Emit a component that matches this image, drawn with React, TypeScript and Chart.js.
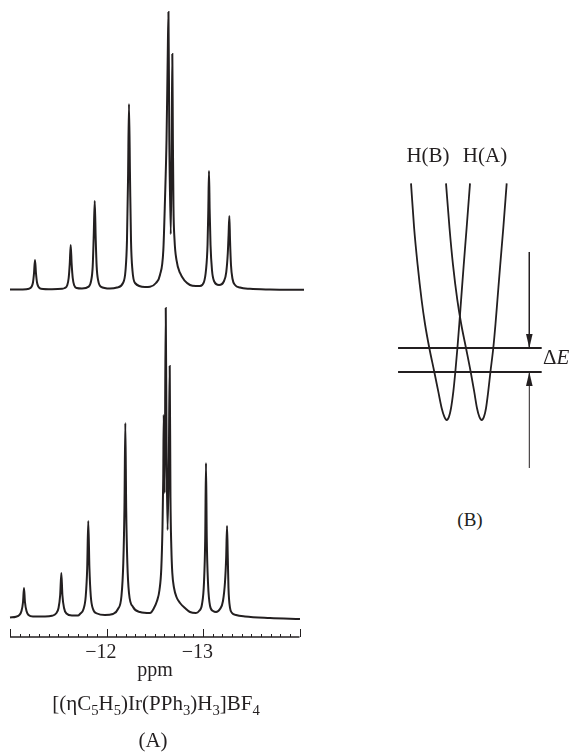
import React, { useEffect, useRef } from "react";
import { Chart, registerables } from "chart.js";

Chart.register(...registerables);

const INK = "#231f20";
const FONT = '"Liberation Serif", "Times New Roman", serif';

// ---------- Panel A : ppm axis ----------
const PPM_AXIS = [-11, -14];
const PPM_MAJOR = [-12, -13];
const PPM_LABELS = ["\u221212", "\u221213"];
const PPM_MINOR_STEP = 0.1;

// upper spectrum (ppm, relative intensity)
const UPPER_PPM = [
  -11.0, -11.124, -11.197, -11.223, -11.238, -11.249, -11.259, -11.269, -11.28, -11.295, -11.321, -11.435,
  -11.539, -11.567, -11.593, -11.608, -11.619, -11.629, -11.639, -11.65, -11.665, -11.691, -11.746,
  -11.816, -11.841, -11.857, -11.867, -11.878, -11.888, -11.898, -11.914, -11.94, -12.036,
  -12.109, -12.171, -12.197, -12.212, -12.223, -12.233, -12.244, -12.254, -12.269, -12.295, -12.399,
  -12.451, -12.513, -12.554, -12.589, -12.606, -12.622, -12.634, -12.642, -12.651, -12.666, -12.676, -12.682,
  -12.688, -12.694, -12.705, -12.725, -12.762, -12.865, -12.927,
  -12.969, -13.01, -13.031, -13.047, -13.055, -13.062, -13.069, -13.078, -13.093, -13.114, -13.166,
  -13.218, -13.241, -13.257, -13.265, -13.273, -13.28, -13.29, -13.306, -13.332, -13.383, -13.487, -13.694, -14.047,
];
const UPPER_INT = [
  0.18, 0.22, 0.47, 1.15, 2.7, 6.12, 10.8, 6.12, 2.7, 1.15, 0.47, 0.29,
  0.43, 0.72, 1.69, 4.32, 9.35, 16.2, 9.35, 4.32, 1.69, 0.72, 0.54,
  1.22, 3.35, 8.49, 18.7, 32.0, 18.7, 8.49, 3.35, 1.22, 0.54,
  0.9, 2.52, 7.01, 17.6, 39.6, 66.9, 39.6, 17.6, 7.01, 2.52, 1.08,
  1.19, 2.52, 5.4, 14.4, 32.4, 54.0, 82.7, 100, 54.0, 20.1, 54.0, 84.9,
  54.0, 29.9, 18.0, 10.8, 6.12, 1.8, 1.44,
  1.44, 2.88, 7.19, 16.2, 28.8, 42.8, 28.8, 16.2, 7.19, 3.24, 1.8,
  3.24, 6.47, 13.3, 19.8, 26.6, 18.0, 8.99, 3.96, 1.8, 0.9, 0.43, 0.18, 0.07,
];

// lower spectrum (ppm, relative intensity)
const LOWER_PPM = [
  -11.0, -11.062, -11.098, -11.119, -11.135, -11.145, -11.155, -11.171, -11.192, -11.238, -11.363,
  -11.435, -11.477, -11.503, -11.52, -11.532, -11.543, -11.56, -11.585, -11.642, -11.705,
  -11.725, -11.762, -11.785, -11.8, -11.811, -11.823, -11.837, -11.86, -11.902, -11.984,
  -12.067, -12.119, -12.155, -12.174, -12.186, -12.195, -12.204, -12.216, -12.233, -12.275, -12.347, -12.451,
  -12.492, -12.523, -12.549, -12.568, -12.58, -12.588, -12.593, -12.602, -12.614, -12.623, -12.633,
  -12.646, -12.655, -12.663, -12.672, -12.682, -12.7, -12.725, -12.762, -12.813, -12.865, -12.927,
  -12.959, -12.99, -13.01, -13.023, -13.031, -13.039, -13.052, -13.073, -13.104, -13.135,
  -13.176, -13.207, -13.228, -13.24, -13.249, -13.257, -13.264, -13.28, -13.301, -13.342, -13.435, -13.694, -14.005,
];
const LOWER_INT = [
  0.16, 0.39, 0.97, 2.26, 5.16, 9.68, 5.16, 2.26, 0.97, 0.48, 0.48,
  0.71, 1.45, 3.23, 7.42, 14.5, 7.42, 3.23, 1.45, 0.81, 0.81,
  1.29, 2.9, 7.1, 16.1, 31.3, 16.1, 7.1, 2.9, 1.45, 0.97,
  1.29, 2.9, 7.1, 17.7, 35.5, 62.9, 35.5, 17.7, 8.06, 3.55, 1.94, 1.61,
  3.23, 5.48, 9.03, 16.1, 29.0, 45.2, 65.5, 40.3, 100, 51.6, 28.4,
  51.6, 81.3, 38.7, 22.6, 14.5, 9.68, 6.77, 4.84, 3.23, 1.94, 1.61,
  2.26, 4.52, 11.3, 25.8, 50.0, 25.8, 11.3, 3.87, 2.26, 1.94,
  2.9, 5.48, 11.6, 19.4, 29.7, 19.4, 9.68, 3.23, 1.61, 0.97, 0.48, 0, -0.32,
];

// ---------- Panel B : potential wells (coordinate q, energy E) ----------
const WELL_E = [9.86, 8, 6.46, 5, 4, 3, 2, 1.18, 0.49, 0.14, 0, 0.14, 0.49, 1.18, 2, 3, 4, 5, 6.46, 8, 9.86];
const HB_Q = [
  -1.02, -0.931, -0.831, -0.717, -0.62, -0.497, -0.354, -0.24, -0.143, -0.069, 0,
  0.066, 0.123, 0.189, 0.246, 0.306, 0.36, 0.411, 0.486, 0.569, 0.666,
];
const HA_Q = [
  -0.02, 0.08, 0.18, 0.303, 0.414, 0.551, 0.686, 0.786, 0.866, 0.931, 1.0,
  1.066, 1.123, 1.186, 1.249, 1.331, 1.394, 1.449, 1.529, 1.617, 1.714,
];
const LEVELS_E = [3, 2];
const LEVEL_Q = [-1.39, 2.714];
const ARROW_Q = 2.36;
const ARROW_DOWN_E = [7, 3];
const ARROW_UP_E = [-2, 2];

const zip = (xs: number[], ys: number[]) => xs.map((x, i) => ({ x, y: ys[i] }));

const ppmAxisPlugin = {
  id: "ppmAxis",
  afterDraw(chart: any) {
    const { ctx, chartArea, scales } = chart;
    const x = scales.x;
    const y0 = chartArea.bottom;
    ctx.save();
    ctx.strokeStyle = INK;
    ctx.lineWidth = 1.3;
    const xa = x.getPixelForValue(PPM_AXIS[0]);
    const xb = x.getPixelForValue(PPM_AXIS[1]);
    ctx.beginPath();
    ctx.moveTo(xa, y0);
    ctx.lineTo(xb, y0);
    ctx.stroke();
    ctx.lineWidth = 1;
    const n = Math.round(Math.abs(PPM_AXIS[1] - PPM_AXIS[0]) / PPM_MINOR_STEP);
    for (let i = 0; i <= n; i++) {
      const v = PPM_AXIS[0] - i * PPM_MINOR_STEP;
      const major = i % 10 === 0;
      const px = Math.round(x.getPixelForValue(v)) + 0.5;
      ctx.beginPath();
      ctx.moveTo(px, y0);
      ctx.lineTo(px, y0 - (major ? 8 : 3));
      ctx.stroke();
    }
    ctx.fillStyle = INK;
    ctx.font = `20px ${FONT}`;
    ctx.textBaseline = "alphabetic";
    ctx.textAlign = "left";
    PPM_MAJOR.forEach((v, i) => {
      const label = PPM_LABELS[i];
      const full = ctx.measureText(label).width;
      const digits = ctx.measureText(label.slice(1)).width;
      const px = x.getPixelForValue(v);
      ctx.fillText(label, px - full + digits / 2, y0 + 21);
    });
    ctx.restore();
  },
};

const arrowPlugin = {
  id: "arrowHeads",
  afterDatasetsDraw(chart: any) {
    const ctx = chart.ctx;
    chart.data.datasets.forEach((ds: any, i: number) => {
      if (!ds.arrowHead) return;
      const pts = chart.getDatasetMeta(i).data;
      const tip = pts[pts.length - 1];
      const prev = pts[pts.length - 2];
      const ang = Math.atan2(tip.y - prev.y, tip.x - prev.x);
      const L = 14;
      const W = 3.3;
      ctx.save();
      ctx.fillStyle = INK;
      ctx.beginPath();
      ctx.moveTo(tip.x, tip.y);
      ctx.lineTo(tip.x - L * Math.cos(ang) + W * Math.sin(ang), tip.y - L * Math.sin(ang) - W * Math.cos(ang));
      ctx.lineTo(tip.x - L * Math.cos(ang) - W * Math.sin(ang), tip.y - L * Math.sin(ang) + W * Math.cos(ang));
      ctx.closePath();
      ctx.fill();
      ctx.restore();
    });
  },
};

const baseOpts = {
  responsive: false,
  animation: false as const,
  events: [] as any[],
  plugins: { legend: { display: false }, tooltip: { enabled: false } },
  elements: { point: { radius: 0 } },
};

const Txt = ({ x, base, size, align = "center", children }: any) => (
  <div
    style={{
      position: "absolute",
      left: x,
      top: base - 0.8375 * size,
      fontSize: size,
      lineHeight: 1,
      fontFamily: FONT,
      color: INK,
      whiteSpace: "nowrap",
      transform: align === "center" ? "translateX(-50%)" : undefined,
    }}
  >
    {children}
  </div>
);

const Sub = ({ children }: any) => (
  <span style={{ fontSize: "0.7em", position: "relative", top: "0.3em" }}>{children}</span>
);

export default function App() {
  const aRef = useRef<HTMLCanvasElement>(null);
  const bRef = useRef<HTMLCanvasElement>(null);

  useEffect(() => {
    const line = (data: any[], yAxisID: string, w: number) => ({
      data,
      yAxisID,
      borderColor: INK,
      borderWidth: w,
      fill: false,
      cubicInterpolationMode: "monotone",
      clip: false,
      pointRadius: 0,
    });

    const chartA = new Chart(aRef.current!, {
      type: "line",
      data: {
        datasets: [
          line(zip(UPPER_PPM, UPPER_INT), "yU", 2),
          line(zip(LOWER_PPM, LOWER_INT), "yL", 2),
        ] as any,
      },
      options: {
        ...baseOpts,
        layout: { padding: { left: 10, right: 6, top: 4, bottom: 43 } },
        scales: {
          x: { type: "linear", min: -14.0466, max: -11, reverse: true, display: false },
          yU: { type: "linear", min: -124.82, max: 102.88, display: false },
          yL: { type: "linear", min: -6.13, max: 198.06, display: false },
        },
      } as any,
      plugins: [ppmAxisPlugin],
    });

    const seg = (data: any[], w: number, arrow = false) => ({
      data,
      borderColor: INK,
      borderWidth: w,
      fill: false,
      clip: false,
      pointRadius: 0,
      tension: 0,
      arrowHead: arrow,
    });

    const chartB = new Chart(bRef.current!, {
      type: "line",
      data: {
        datasets: [
          { ...seg(zip(HB_Q, WELL_E), 1.8), cubicInterpolationMode: "monotone" },
          { ...seg(zip(HA_Q, WELL_E), 1.8), cubicInterpolationMode: "monotone" },
          ...LEVELS_E.map((e) => seg(LEVEL_Q.map((q) => ({ x: q, y: e })), 1.8)),
          seg(ARROW_DOWN_E.map((e) => ({ x: ARROW_Q, y: e })), 1, true),
          seg(ARROW_UP_E.map((e) => ({ x: ARROW_Q, y: e })), 1, true),
        ] as any,
      },
      options: {
        ...baseOpts,
        layout: { padding: 0 },
        scales: {
          x: { type: "linear", min: -1.906, max: 3.58, display: false },
          y: { type: "linear", min: -2.5, max: 12.083, display: false },
        },
      } as any,
      plugins: [arrowPlugin],
    });

    return () => {
      chartA.destroy();
      chartB.destroy();
    };
  }, []);

  return (
    <div style={{ position: "absolute", left: 0, top: 0, width: 572, height: 752, background: "#fff", overflow: "hidden" }}>
      <canvas ref={aRef} width={310} height={680} style={{ position: "absolute", left: 0, top: 0, width: 310, height: 680 }} />
      <canvas ref={bRef} width={192} height={350} style={{ position: "absolute", left: 380, top: 130, width: 192, height: 350 }} />
      <Txt x={155} base={676} size={20}>ppm</Txt>
      <Txt x={156} base={711} size={21}>
        [(ηC<Sub>5</Sub>H<Sub>5</Sub>)Ir(PPh<Sub>3</Sub>)H<Sub>3</Sub>]BF<Sub>4</Sub>
      </Txt>
      <Txt x={153} base={748} size={21}>(A)</Txt>
      <Txt x={428} base={163} size={21}>H(B)</Txt>
      <Txt x={485} base={163} size={21}>H(A)</Txt>
      <Txt x={543} base={365} size={21} align="left">
        Δ<i>E</i>
      </Txt>
      <Txt x={470} base={526} size={19}>(B)</Txt>
    </div>
  );
}
